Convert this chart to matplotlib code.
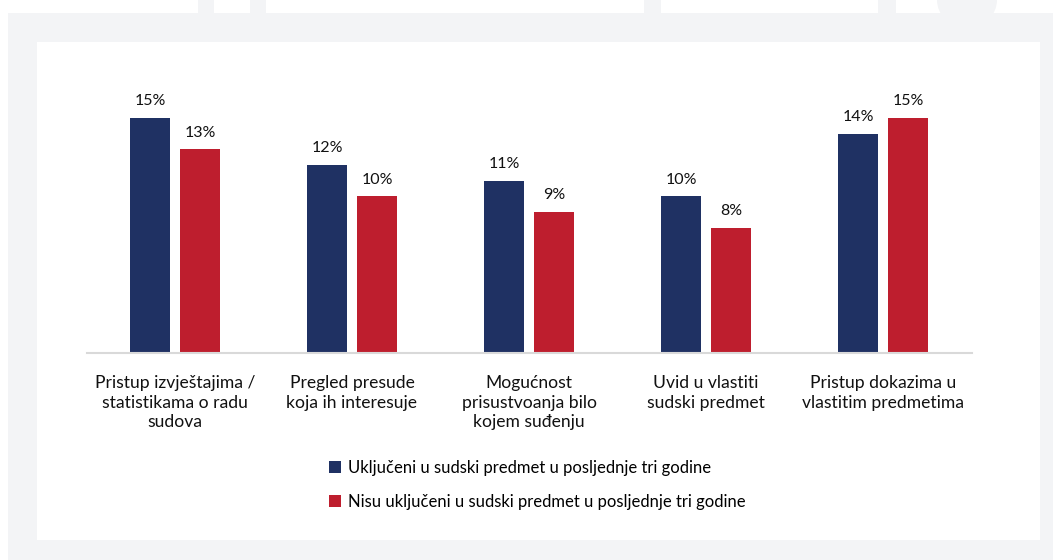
import matplotlib.pyplot as plt
import matplotlib.patches as patches
import numpy as np

plt.rcParams['font.family'] = ['Lato', 'DejaVu Sans']

# data
categories = [
    "Pristup izvještajima /\nstatistikama o radu\nsudova",
    "Pregled presude\nkoja ih interesuje",
    "Mogućnost\nprisustvoanja bilo\nkojem suđenju",
    "Uvid u vlastiti\nsudski predmet",
    "Pristup dokazima u\nvlastitim predmetima",
]
included = [15, 12, 11, 10, 14]
not_included = [13, 10, 9, 8, 15]
series_names = [
    "Uključeni u sudski predmet u posljednje tri godine",
    "Nisu uključeni u sudski predmet u posljednje tri godine",
]
navy = "#1f3163"
red = "#be1e2e"
bg_gray = "#f3f4f6"

W, H = 1053, 560
fig = plt.figure(figsize=(W / 100, H / 100), dpi=100)
fig.patch.set_facecolor("white")

# page decoration (background panels)
def px_rect(x0, y0, x1, y1, color):
    fig.patches.append(patches.Rectangle((x0 / W, 1 - y1 / H), (x1 - x0) / W, (y1 - y0) / H,
                                         transform=fig.transFigure, facecolor=color,
                                         edgecolor="none", zorder=-10))

px_rect(8, 13, W, H, bg_gray)
for x0, x1 in [(198, 214), (250, 266), (644, 661), (878, 896)]:
    px_rect(x0, 0, x1, 14, bg_gray)
fig.patches.append(patches.Ellipse((967 / W, 1 - 0 / H), 60 / W, 28 / H * 2,
                                   transform=fig.transFigure, facecolor=bg_gray,
                                   edgecolor="none", zorder=-10))
px_rect(37, 42, 1040, 540, "white")

# axes: baseline at y=353 px, 177 px per group
left, right = 86.5, 86.5 + 5 * 177
base, top = 353, 353 - 16 * 15.67
ax = fig.add_axes([left / W, 1 - base / H, (right - left) / W, (base - top) / H])
ax.set_facecolor("none")
ax.set_zorder(1)

x = np.arange(len(categories))
bw = 40 / 177
gap = 10 / 177
b1 = ax.bar(x - (bw + gap) / 2, included, bw, color=navy, label=series_names[0])
b2 = ax.bar(x + (bw + gap) / 2, not_included, bw, color=red, label=series_names[1])

for bars, vals in [(b1, included), (b2, not_included)]:
    for rect, v in zip(bars, vals):
        ax.annotate(f"{v}%", (rect.get_x() + rect.get_width() / 2, rect.get_height()),
                    xytext=(0, 7), textcoords="offset points", ha="center", va="bottom",
                    fontsize=11.5, color="#111111")

ax.set_xlim(-0.5, 4.5)
ax.set_ylim(0, 16)
ax.set_yticks([])
ax.set_xticks(x)
ax.set_xticklabels(categories, fontsize=12.6, color="#111111", linespacing=1.26)
ax.tick_params(axis="x", length=0, pad=16)
for s in ["top", "left", "right"]:
    ax.spines[s].set_visible(False)
ax.spines["bottom"].set_color("#d9d9d9")
ax.spines["bottom"].set_linewidth(1.5)

leg = fig.legend(handles=[b1, b2], loc="upper left", bbox_to_anchor=(329 / W, 1 - 460 / H),
                 frameon=False, fontsize=12, handlelength=0.72, handleheight=0.72,
                 handletextpad=0.45, labelspacing=1.05, borderpad=0, borderaxespad=0)
leg.set_zorder(5)

fig.savefig("out.png", dpi=100, facecolor=fig.get_facecolor())
